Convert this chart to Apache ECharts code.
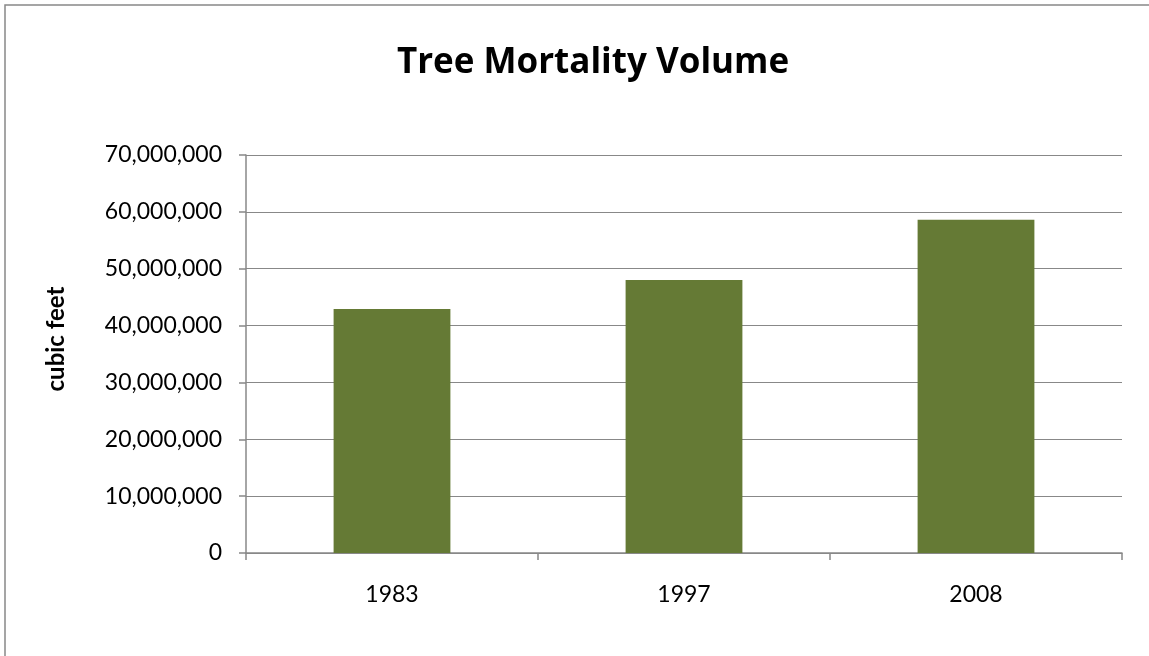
<!DOCTYPE html>
<html>
<head>
<meta charset="utf-8">
<script src="https://cdn.jsdelivr.net/npm/echarts@6/dist/echarts.min.js"></script>
<style>
  html, body { margin: 0; padding: 0; background: #fff; }
  #chart { width: 1149px; height: 656px; }
</style>
</head>
<body>
<div id="chart"></div>
<script>
// tree mortality volume
const years = ['1983', '1997', '2008']
const volume = [42900000, 48000000, 58600000]
const yMin = 0
const yMax = 70000000
const yStep = 10000000

const chart = echarts.init(document.getElementById('chart'))
chart.setOption({
  animation: false,
  backgroundColor: '#fff',
  textStyle: { fontFamily: 'Lato' },
  graphic: [
    {
      type: 'rect',
      shape: { x: 5, y: 5, width: 1300, height: 800 },
      style: { fill: 'none', stroke: '#888', lineWidth: 1.5 },
      silent: true
    }
  ],
  title: {
    text: 'Tree Mortality Volume',
    left: 588,
    top: 41,
    textAlign: 'center',
    textStyle: { fontFamily: 'Open Sans', fontWeight: 'bold', fontSize: 35, color: '#000' }
  },
  grid: { left: 246, right: 27, top: 155, bottom: 103 },
  xAxis: {
    type: 'category',
    data: years,
    axisLine: { lineStyle: { color: '#888', width: 1.5 } },
    axisTick: { show: true, length: 7, lineStyle: { color: '#888', width: 1.5 } },
    axisLabel: { color: '#000', fontSize: 23, margin: 30, fontFamily: 'Lato' }
  },
  yAxis: {
    type: 'value',
    min: yMin,
    max: yMax,
    interval: yStep,
    name: 'cubic feet',
    nameLocation: 'middle',
    nameGap: 178,
    nameTextStyle: {
      fontFamily: 'Lato',
      fontWeight: 'bold',
      fontSize: 24,
      color: '#000',
      padding: [0, 0, 0, 30]
    },
    axisLine: { show: true, lineStyle: { color: '#888', width: 1.5 } },
    axisTick: { show: true, length: 7, lineStyle: { color: '#888', width: 1.5 } },
    splitLine: { lineStyle: { color: '#888', width: 1.2 } },
    axisLabel: {
      color: '#000',
      fontSize: 23,
      margin: 24,
      fontFamily: 'Lato',
      formatter: v => v.toLocaleString('en-US')
    }
  },
  series: [
    {
      type: 'bar',
      data: volume,
      barWidth: '40%',
      itemStyle: { color: '#657a35' }
    }
  ]
})
</script>
</body>
</html>
